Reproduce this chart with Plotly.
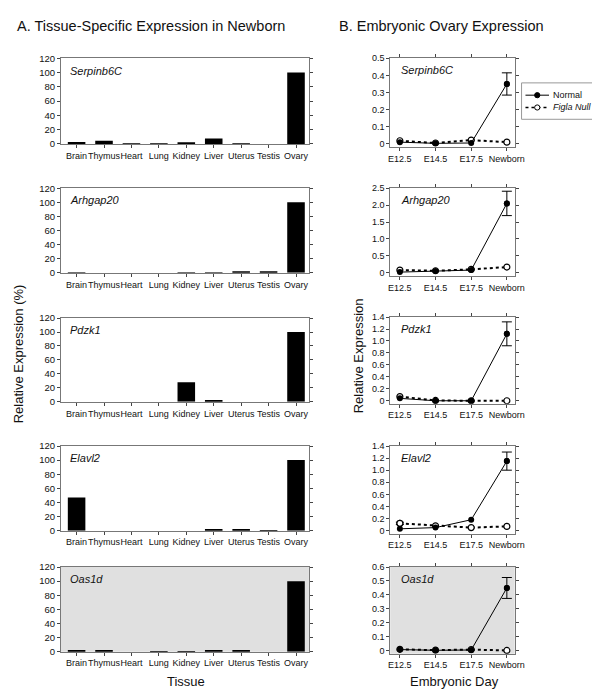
import plotly.graph_objects as go

FONT = "Liberation Sans, Arial, sans-serif"

genes = ["Serpinb6C", "Arhgap20", "Pdzk1", "Elavl2", "Oas1d"]
tissues = ["Brain", "Thymus", "Heart", "Lung", "Kidney", "Liver", "Uterus", "Testis", "Ovary"]
days = ["E12.5", "E14.5", "E17.5", "Newborn"]
legend_labels = ["Normal", "<i>Figla Null</i>"]

tissue_serpinb6c = [2.5, 4.5, 0.5, 0.5, 1.0, 7.5, 0.5, 0.0, 100]
tissue_arhgap20 = [0.3, 0.0, 0.0, 0.0, 0.3, 0.3, 1.2, 1.8, 100]
tissue_pdzk1 = [0.0, 0.0, 0.0, 0.0, 28, 1.0, 0.0, 0.0, 100]
tissue_elavl2 = [47, 0.0, 0.0, 0.0, 0.0, 1.0, 1.0, 0.3, 100]
tissue_oas1d = [1.0, 2.5, 0.0, 0.3, 0.3, 2.0, 1.0, 0.0, 100]

normal_serpinb6c = [0.010, 0.003, 0.005, 0.35]
null_serpinb6c = [0.018, 0.005, 0.022, 0.010]
normal_arhgap20 = [0.02, 0.05, 0.08, 2.05]
null_arhgap20 = [0.08, 0.06, 0.10, 0.17]
normal_pdzk1 = [0.04, 0.0, 0.0, 1.12]
null_pdzk1 = [0.07, 0.005, 0.0, 0.0]
normal_elavl2 = [0.03, 0.05, 0.18, 1.15]
null_elavl2 = [0.12, 0.08, 0.05, 0.07]
normal_oas1d = [0.008, 0.003, 0.005, 0.45]
null_oas1d = [0.010, 0.004, 0.008, 0.002]

newborn_err = [0.065, 0.36, 0.20, 0.15, 0.075]
elavl2_null_e125_err = 0.02

right_max = [0.5, 2.5, 1.4, 1.4, 0.6]
right_tickvals = [
    [0, 0.1, 0.2, 0.3, 0.4, 0.5],
    [0, 0.5, 1.0, 1.5, 2.0, 2.5],
    [0, 0.2, 0.4, 0.6, 0.8, 1.0, 1.2, 1.4],
    [0, 0.2, 0.4, 0.6, 0.8, 1.0, 1.2, 1.4],
    [0, 0.1, 0.2, 0.3, 0.4, 0.5, 0.6],
]
right_ticktext = [
    ["0", "0.1", "0.2", "0.3", "0.4", "0.5"],
    ["0", "0.5", "1.0", "1.5", "2.0", "2.5"],
    ["0", "0.2", "0.4", "0.6", "0.8", "1.0", "1.2", "1.4"],
    ["0", "0.2", "0.4", "0.6", "0.8", "1.0", "1.2", "1.4"],
    ["0", "0.1", "0.2", "0.3", "0.4", "0.5", "0.6"],
]
left_tickvals = [0, 20, 40, 60, 80, 100, 120]

tissue_data = [tissue_serpinb6c, tissue_arhgap20, tissue_pdzk1, tissue_elavl2, tissue_oas1d]
normal_data = [normal_serpinb6c, normal_arhgap20, normal_pdzk1, normal_elavl2, normal_oas1d]
null_data = [null_serpinb6c, null_arhgap20, null_pdzk1, null_elavl2, null_oas1d]

W, H = 600, 690
left_px = [(45, 132), (177, 263), (309, 394), (439, 525), (562, 648)]
right_px = [(45, 135), (177, 266), (308, 396), (439, 528), (562, 650)]


def yd(p):
    return [1 - p[1] / H, 1 - p[0] / H]


def px(x):
    return x / W


def py(y):
    return 1 - y / H


def ax_id(n):
    return "" if n == 1 else str(n)


fig = go.Figure()
layout = dict(
    width=W, height=H, margin=dict(l=0, r=0, t=0, b=0),
    paper_bgcolor="white", plot_bgcolor="rgba(0,0,0,0)",
    font=dict(family=FONT, size=10, color="#111"),
    showlegend=False,
)
shapes = []
annotations = []

axis_common = dict(showline=True, linecolor="#777", linewidth=1, mirror="ticks",
                   ticks="outside", ticklen=3, tickcolor="#444", showgrid=False,
                   zeroline=False, tickangle=0,
                   tickfont=dict(size=9, family=FONT, color="#111"))

for i in range(5):
    la = ax_id(2 * i + 1)
    ra = ax_id(2 * i + 2)
    # left bar panel
    fig.add_trace(go.Bar(x=tissues, y=tissue_data[i], marker=dict(color="black", line=dict(width=0)),
                         xaxis=f"x{la}", yaxis=f"y{la}", width=0.64))
    layout[f"xaxis{la}"] = dict(axis_common, domain=[px(52), px(305)], anchor=f"y{la}",
                                range=[-0.57, 8.47], type="category", mirror=True)
    layout[f"yaxis{la}"] = dict(axis_common, domain=yd(left_px[i]), anchor=f"x{la}",
                                range=[0, 120], tickvals=left_tickvals,
                                ticktext=[str(v) for v in left_tickvals],
                                tickfont=dict(size=9.5, family=FONT, color="#111"))
    annotations.append(dict(text=f"<i>{genes[i]}</i>", xref=f"x{la} domain", yref=f"y{la} domain",
                            x=0.03, y=0.95, xanchor="left", yanchor="top", showarrow=False,
                            font=dict(size=11, family=FONT)))

    # right line panel
    pad = right_max[i] * 0.035
    fig.add_trace(go.Scatter(x=days, y=null_data[i], mode="lines+markers",
                             line=dict(color="black", width=2, dash="dot"),
                             marker=dict(symbol="circle", size=6, color="white",
                                         line=dict(color="black", width=1.2)),
                             xaxis=f"x{ra}", yaxis=f"y{ra}"))
    fig.add_trace(go.Scatter(x=days, y=normal_data[i], mode="lines+markers",
                             line=dict(color="black", width=1),
                             marker=dict(symbol="circle", size=6, color="black"),
                             xaxis=f"x{ra}", yaxis=f"y{ra}"))
    fig.add_trace(go.Scatter(x=[days[3]], y=[normal_data[i][3]], mode="markers",
                             marker=dict(size=6, color="black"),
                             error_y=dict(type="data", array=[newborn_err[i]], color="black",
                                          thickness=1, width=5),
                             xaxis=f"x{ra}", yaxis=f"y{ra}"))
    if i == 3:
        fig.add_trace(go.Scatter(x=[days[0]], y=[null_data[i][0]], mode="markers",
                                 marker=dict(size=6, color="white", line=dict(color="black", width=1.2)),
                                 error_y=dict(type="data", array=[elavl2_null_e125_err], color="black",
                                              thickness=1, width=4),
                                 xaxis=f"x{ra}", yaxis=f"y{ra}"))
    layout[f"xaxis{ra}"] = dict(axis_common, domain=[px(388), px(515)], anchor=f"y{ra}",
                                range=[-0.27, 3.22], type="category")
    layout[f"yaxis{ra}"] = dict(axis_common, domain=yd(right_px[i]), anchor=f"x{ra}",
                                range=[-pad, right_max[i]], tickvals=right_tickvals[i],
                                ticktext=right_ticktext[i])
    annotations.append(dict(text=f"<i>{genes[i]}</i>", xref=f"x{ra} domain", yref=f"y{ra} domain",
                            x=0.07, y=0.96, xanchor="left", yanchor="top", showarrow=False,
                            font=dict(size=11, family=FONT)))

# grey background for last row
for ax in ("9", "10"):
    shapes.append(dict(type="rect", xref=f"x{ax} domain", yref=f"y{ax} domain", x0=0, x1=1, y0=0, y1=1,
                       fillcolor="#e0e0e0", line=dict(width=0), layer="below"))

# legend box (drawn as decoration)
shapes.append(dict(type="rect", xref="paper", yref="paper", x0=px(522), x1=px(597),
                   y0=py(107), y1=py(70), line=dict(color="#999", width=1), fillcolor="white"))
legend_rows = [82.5, 95]
legend_dash = ["solid", "dot"]
legend_lw = [1, 1.6]
legend_fill = ["black", "white"]
for r in range(2):
    yy = py(legend_rows[r])
    shapes.append(dict(type="line", xref="paper", yref="paper", x0=px(526), x1=px(550),
                       y0=yy, y1=yy, line=dict(color="black", width=legend_lw[r], dash=legend_dash[r])))
    shapes.append(dict(type="circle", xref="paper", yref="paper", xsizemode="pixel", ysizemode="pixel",
                       xanchor=px(538), yanchor=yy, x0=-2.6, x1=2.6, y0=-2.6, y1=2.6,
                       fillcolor=legend_fill[r], line=dict(color="black", width=1)))
    annotations.append(dict(text=legend_labels[r], xref="paper", yref="paper", x=px(552), y=yy,
                            xanchor="left", yanchor="middle", showarrow=False,
                            font=dict(size=9, family=FONT)))

annotations += [
    dict(text="A. Tissue-Specific Expression in Newborn", xref="paper", yref="paper",
         x=px(5), y=py(12), xanchor="left", yanchor="middle", showarrow=False,
         font=dict(size=14.5, family=FONT)),
    dict(text="B. Embryonic Ovary Expression", xref="paper", yref="paper",
         x=px(334), y=py(12), xanchor="left", yanchor="middle", showarrow=False,
         font=dict(size=14.5, family=FONT)),
    dict(text="Relative Expression (%)", xref="paper", yref="paper",
         x=px(9), y=py(345), xanchor="center", yanchor="middle", textangle=-90,
         showarrow=False, font=dict(size=13, family=FONT)),
    dict(text="Relative Expression", xref="paper", yref="paper",
         x=px(356), y=py(347), xanchor="center", yanchor="middle", textangle=-90,
         showarrow=False, font=dict(size=13, family=FONT)),
    dict(text="Tissue", xref="paper", yref="paper",
         x=px(180), y=py(678), xanchor="center", yanchor="middle",
         showarrow=False, font=dict(size=13, family=FONT)),
    dict(text="Embryonic Day", xref="paper", yref="paper",
         x=px(454), y=py(678), xanchor="center", yanchor="middle",
         showarrow=False, font=dict(size=13, family=FONT)),
]

layout["shapes"] = shapes
layout["annotations"] = annotations
fig.update_layout(**layout)
fig.write_html("out.html")
